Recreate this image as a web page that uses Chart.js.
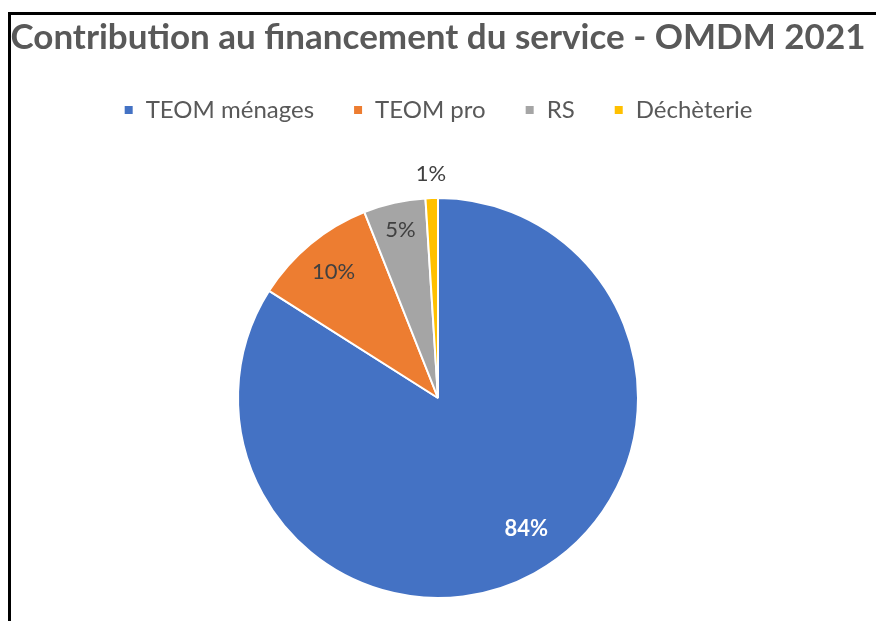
<!DOCTYPE html>
<html>
<head>
<meta charset="utf-8">
<script src="https://cdn.jsdelivr.net/npm/chart.js@4.4.0/dist/chart.umd.min.js"></script>
<style>
  html, body { margin: 0; padding: 0; background: #fff; overflow: hidden; }
  #cadre { position: absolute; left: 8px; top: 12px; width: 900px; height: 700px;
           border-left: 3px solid #000; border-top: 3px solid #000; }
  #zone { position: absolute; left: 0; top: 0; width: 876px; height: 621px; }
</style>
</head>
<body>
<div id="cadre"></div>
<div id="zone"><canvas id="pieChart"></canvas></div>
<script>
const titre = "Contribution au financement du service - OMDM 2021";
const categories = ["TEOM ménages", "TEOM pro", "RS", "Déchèterie"];
const valeurs = [84, 10, 5, 1];
const couleurs = ['#4472C4', '#ED7D31', '#A5A5A5', '#FFC000'];
const rayonsEtiquettes = [0.79, 0.82, 0.86];

// etiquettes de pourcentage sur les parts
const etiquettes = {
    id: 'etiquettes',
    afterDraw(chart) {
        const ctx = chart.ctx;
        const meta = chart.getDatasetMeta(0);
        const total = valeurs.reduce((a, b) => a + b, 0);
        meta.data.forEach((arc, i) => {
            const p = arc.getProps(['x', 'y', 'startAngle', 'endAngle', 'outerRadius'], true);
            let milieu = (p.startAngle + p.endAngle) / 2;
            if (i === 0) milieu -= 0.09; // excel decale un peu la grande part
            let r;
            if (valeurs[i] / total < 0.03) r = p.outerRadius + 24;
            else r = p.outerRadius * rayonsEtiquettes[i];
            const x = p.x + Math.cos(milieu) * r;
            const y = p.y + Math.sin(milieu) * r;
            const txt = Math.round(valeurs[i] / total * 100) + '%';
            ctx.save();
            ctx.textAlign = 'center';
            ctx.textBaseline = 'middle';
            if (i === 0) {
                ctx.fillStyle = '#ffffff';
                ctx.font = 'bold 22px Lato';
            } else {
                ctx.fillStyle = '#404040';
                ctx.font = '22px Lato';
            }
            ctx.fillText(txt, x, y);
            ctx.restore();
        });
    }
};

// plus d'espace sous la legende
const espaceLegende = {
    id: 'espaceLegende',
    beforeInit(chart) {
        const fitOrig = chart.legend.fit;
        chart.legend.fit = function () {
            fitOrig.bind(chart.legend)();
            this.height += 65;
        };
    }
};

document.addEventListener("DOMContentLoaded", () => {
    const data = {
        labels: categories,
        datasets: [{
            data: valeurs,
            backgroundColor: couleurs,
            borderColor: '#ffffff',
            borderWidth: 2
        }]
    };
    const config = {
        type: 'pie',
        data,
        plugins: [etiquettes, espaceLegende],
        options: {
            responsive: false,
            animation: false,
            layout: { padding: { top: 13, bottom: 22, left: 0, right: 0 } },
            plugins: {
                title: {
                    display: true,
                    text: titre,
                    color: '#595959',
                    font: { family: 'Lato', size: 35, weight: 'bold' },
                    padding: { top: 4, bottom: 0 }
                },
                legend: {
                    position: 'top',
                    labels: {
                        color: '#595959',
                        font: { family: 'Lato', size: 24 },
                        boxWidth: 10,
                        boxHeight: 10,
                        padding: 39
                    }
                },
                tooltip: { enabled: false }
            }
        }
    };
    const canvas = document.getElementById("pieChart");
    canvas.width = 876;
    canvas.height = 621;
    new Chart(canvas, config);
});
</script>
</body>
</html>
